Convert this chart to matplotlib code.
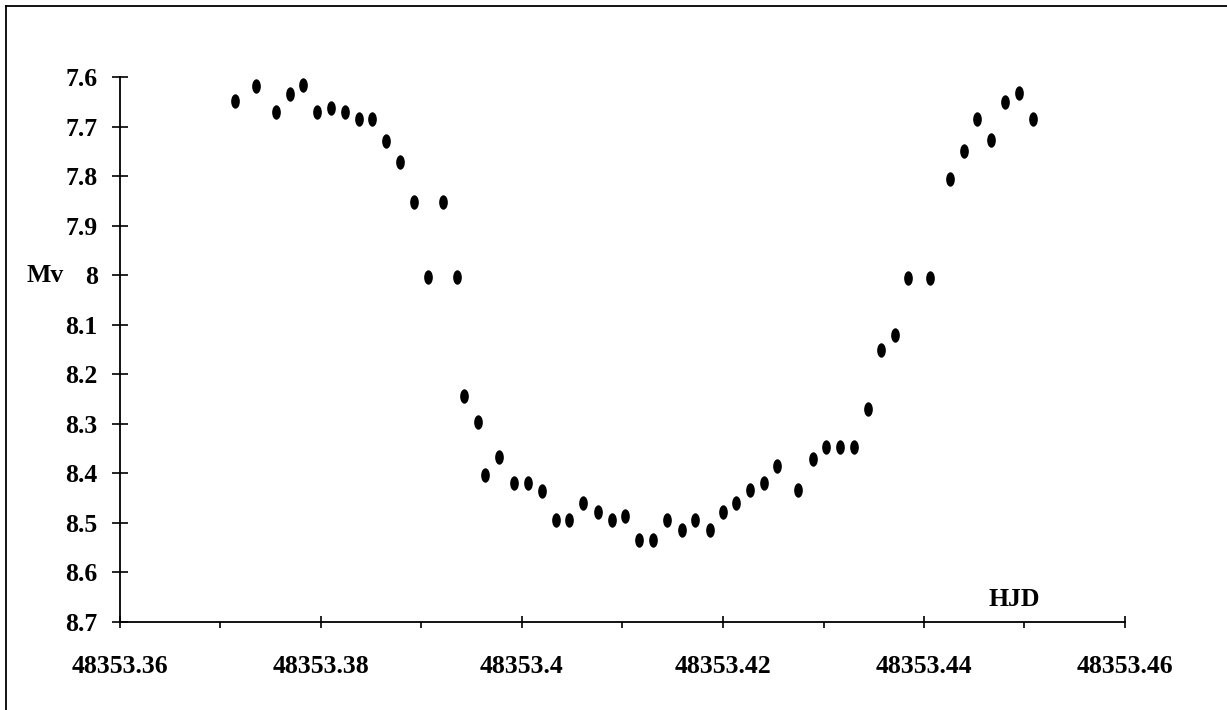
import numpy as np
import matplotlib
matplotlib.use("Agg")
import matplotlib.pyplot as plt
from matplotlib.path import Path
from matplotlib.lines import Line2D
from matplotlib.ticker import MultipleLocator, FuncFormatter

plt.rcParams['font.family'] = ['Liberation Serif', 'DejaVu Serif']

# light curve, HJD - 48353 and visual magnitude
hjd_offset = [0.37141, 0.37350, 0.37552, 0.37689, 0.37821, 0.37963, 0.38100, 0.38239,
              0.38378, 0.38510, 0.38647, 0.38791, 0.38927, 0.39068, 0.39214, 0.39350,
              0.39426, 0.39559, 0.39635, 0.39771, 0.39923, 0.40063, 0.40199, 0.40338,
              0.40471, 0.40610, 0.40756, 0.40893, 0.41028, 0.41164, 0.41303, 0.41446,
              0.41589, 0.41724, 0.41866, 0.41997, 0.42132, 0.42272, 0.42411, 0.42540,
              0.42749, 0.42893, 0.43025, 0.43164, 0.43303, 0.43438, 0.43569, 0.43713,
              0.43844, 0.44057, 0.44256, 0.44395, 0.44530, 0.44667, 0.44806, 0.44945,
              0.45085]
mv = [7.648, 7.618, 7.671, 7.635, 7.616, 7.671, 7.662, 7.671, 7.685, 7.685, 7.729,
      7.771, 7.853, 8.004, 7.853, 8.004, 8.244, 8.296, 8.403, 8.366, 8.420, 8.420,
      8.435, 8.495, 8.495, 8.460, 8.477, 8.495, 8.487, 8.535, 8.535, 8.495, 8.514,
      8.495, 8.514, 8.477, 8.460, 8.434, 8.420, 8.386, 8.434, 8.371, 8.347, 8.347,
      8.347, 8.271, 8.152, 8.120, 8.005, 8.005, 7.806, 7.749, 7.685, 7.728, 7.650,
      7.633, 7.685]
hjd = 48353 + np.array(hjd_offset)

x_ticks = [48353.36, 48353.38, 48353.40, 48353.42, 48353.44, 48353.46]
x_tick_labels = ['48353.36', '48353.38', '48353.4', '48353.42', '48353.44', '48353.46']
y_ticks = [7.6, 7.7, 7.8, 7.9, 8.0, 8.1, 8.2, 8.3, 8.4, 8.5, 8.6, 8.7]

W, H = 1227, 710
fig = plt.figure(figsize=(W / 100, H / 100), dpi=100)
ax = fig.add_axes([120 / W, 1 - 622 / H, 1005 / W, 545 / H])

# tall ellipse marker
circ = Path.unit_circle()
ell = Path(circ.vertices * np.array([0.6, 1.0]), circ.codes)
ax.plot(hjd, mv, linestyle='none', marker=ell, markersize=10.4,
        color='black', markeredgewidth=0)

ax.set_xlim(48353.36, 48353.46)
ax.set_ylim(8.7, 7.6)

for s in ['top', 'right']:
    ax.spines[s].set_visible(False)
for s in ['left', 'bottom']:
    ax.spines[s].set_linewidth(1.3)

ax.set_xticks(x_ticks)
ax.set_xticklabels(x_tick_labels)
ax.xaxis.set_minor_locator(MultipleLocator(0.01))
ax.set_yticks(y_ticks)
ax.yaxis.set_major_formatter(FuncFormatter(lambda v, p: f'{v:g}'))

ax.tick_params(axis='x', which='major', direction='inout', length=9, width=1.2,
               pad=19, labelsize=18.5)
ax.tick_params(axis='x', which='minor', direction='out', length=4, width=1.2)
ax.tick_params(axis='y', which='major', direction='inout', length=11, width=1.2,
               pad=10.5, labelsize=18.5)
for lab in ax.get_xticklabels() + ax.get_yticklabels():
    lab.set_fontweight('bold')

ax.set_ylabel('Mv', rotation=0, fontsize=18.5, fontweight='bold', ha='center', va='center')
ax.yaxis.set_label_coords(-0.0746, 0.6364)
ax.set_xlabel('HJD', fontsize=18.5, fontweight='bold', ha='center', va='center')
ax.xaxis.set_label_coords(0.8896, 0.0404)

# outer frame of the scanned page (left and top edges)
fig.add_artist(Line2D([5.5 / W, 5.5 / W], [0, 1 - 6 / H], color='black', lw=1.3))
fig.add_artist(Line2D([5.5 / W, 1], [1 - 6 / H, 1 - 6 / H], color='black', lw=1.3))

fig.savefig('out.png', dpi=100)
